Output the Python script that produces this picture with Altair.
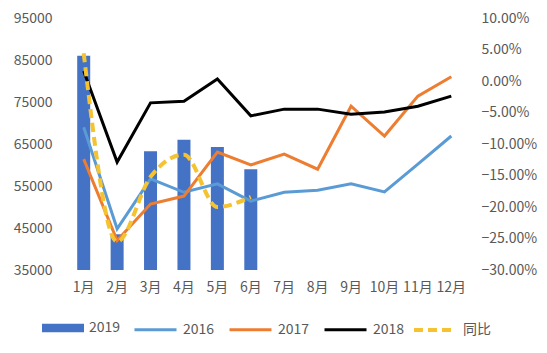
import altair as alt
import pandas as pd

months = ["1月", "2月", "3月", "4月", "5月", "6月", "7月", "8月", "9月", "10月", "11月", "12月"]
v2019 = [86000, 43500, 63300, 66000, 64300, 59000]
v2016 = [69000, 44800, 56700, 53500, 55500, 51400, 53500, 54000, 55500, 53600, 60200, 66900]
v2017 = [61400, 42000, 50700, 52600, 63100, 60000, 62600, 59000, 74000, 66900, 76400, 81000]
v2018 = [82400, 60700, 74800, 75200, 80500, 71700, 73300, 73300, 72100, 72600, 74000, 76400]
yoy = [0.044, -0.255, -0.152, -0.117, -0.200, -0.184]

FONT = "Noto Sans CJK SC"
GRAY = "#595959"

bars_df = pd.DataFrame({"month": months[:6], "value": v2019, "series": "2019"})
lines_df = pd.concat([
    pd.DataFrame({"month": months, "value": v, "series": s})
    for s, v in [("2016", v2016), ("2017", v2017), ("2018", v2018)]
])
yoy_df = pd.DataFrame({"month": months[:6], "value": yoy, "series": "同比"})

x = alt.X("month:N", sort=months, title=None,
          scale=alt.Scale(paddingInner=0, paddingOuter=0),
          axis=alt.Axis(labelAngle=0, domain=False, ticks=False, labelPadding=10))

yleft = alt.Scale(domain=[35000, 95000], nice=False, zero=False)
LEG_Y = 289

bars = alt.Chart(bars_df).mark_bar(size=13).encode(
    x=x,
    y=alt.Y("value:Q", scale=yleft, title=None,
            axis=alt.Axis(values=[35000, 45000, 55000, 65000, 75000, 85000, 95000],
                          format="d", grid=False, domain=False, ticks=False, labelPadding=15)),
    y2=alt.datum(35000),
    fill=alt.Fill("series:N", scale=alt.Scale(domain=["2019"], range=["#4472C4"]),
                  legend=alt.Legend(title=None, orient="none", legendX=-25, legendY=LEG_Y,
                                    direction="horizontal",
                                    symbolType="M-1,-0.2H1V0.2H-1Z", symbolSize=1764,
                                    symbolStrokeWidth=0)),
)

lines = alt.Chart(lines_df).mark_line(strokeWidth=3).encode(
    x=x,
    y=alt.Y("value:Q", scale=yleft),
    stroke=alt.Stroke("series:N",
                      scale=alt.Scale(domain=["2016", "2017", "2018"],
                                      range=["#5B9BD5", "#ED7D31", "#000000"]),
                      legend=alt.Legend(title=None, orient="none", legendX=66, legendY=LEG_Y,
                                        direction="horizontal", symbolType="stroke",
                                        symbolSize=1764, symbolStrokeWidth=3)),
)

left = alt.layer(bars, lines)

yoyline = alt.Chart(yoy_df).mark_line(strokeWidth=4, color="#F5C230", interpolate="monotone").encode(
    x=x,
    y=alt.Y("value:Q", scale=alt.Scale(domain=[-0.3, 0.1], nice=False, zero=False), title=None,
            axis=alt.Axis(orient="right", values=[-0.3, -0.25, -0.2, -0.15, -0.1, -0.05, 0, 0.05, 0.1],
                          format=".2%", grid=False, domain=False, ticks=False, labelPadding=13)),
    strokeDash=alt.StrokeDash("series:N",
                              scale=alt.Scale(domain=["同比"], range=[[9, 5]]),
                              legend=alt.Legend(title=None, orient="none", legendX=345, legendY=LEG_Y,
                                                direction="horizontal", symbolType="stroke",
                                                symbolSize=1764, symbolStrokeWidth=4,
                                                symbolStrokeColor="#F5C230")),
)

chart = alt.layer(left, yoyline).resolve_scale(
    y="independent", fill="independent", stroke="independent", strokeDash="independent"
).properties(
    width=401, height=252,
    autosize=alt.AutoSizeParams(type="none"),
    padding={"left": 67, "top": 18, "right": 79, "bottom": 83},
    background="white",
).configure_view(stroke=None).configure_axis(
    labelFont=FONT, labelFontSize=14, labelColor=GRAY
).configure_legend(
    labelFont=FONT, labelFontSize=14, labelColor=GRAY, columnPadding=8, labelOffset=5
)

chart.save("out.html", embed_options={"renderer": "svg", "actions": False})
